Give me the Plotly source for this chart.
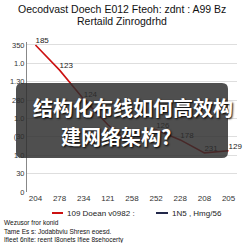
import plotly.graph_objects as go

x_labels = ["204", "278", "234", "121", "258", "252", "228", "208", "205"]
values = [350, 290, 221, 160, 112, 148, 124, 93, 98]
point_labels = ["185", "123", "124", "", "", "126", "178", "231", "129"]
y_tickvals = [0, 43.75, 87.5, 131.25, 175, 218.75, 262.5, 306.25, 350]
y_ticktext = ["0", "30", "1.0", "(30", "1.0", "280", "1.30", "1.0", "350"]
title_lines = ["Oecodvast Doech E012 Fteoh: zdnt : A99 Bz", "Rertaild Zinrogdrhd"]
legend_names = ["109 Doean v0982 :", "1N5 , Hmg/56"]
footer_lines = ["Wezusor fror konid",
                "Tame Es s: Jodabbviu Shresn eoesd.",
                "Ifieet 6nite: reent I8onets Ifiee 8sehocerty"]
overlay_lines = ["结构化布线如何高效构", "建网络架构?"]

L, R, T, B = 27, 6, 42, 51
W = H = 243
pw, ph = W - L - R, H - T - B

def px(x):
    return (x - L) / pw

def py(y):
    return (H - B - y) / ph

fig = go.Figure()
fig.add_trace(go.Scatter(
    x=list(range(len(values))), y=values, mode="lines+text",
    text=point_labels, textposition="top right",
    textfont=dict(size=8, color="#222", family="Liberation Sans"),
    line=dict(color="#cc1111", width=1.6), showlegend=False, cliponaxis=False))

shapes = []
x0, x1, y0, y1 = px(16), px(228), py(158), py(83)
rx, ry = 6 / pw, 6 / ph
path = (f"M {x0+rx},{y0} L {x1-rx},{y0} Q {x1},{y0} {x1},{y0+ry} "
        f"L {x1},{y1-ry} Q {x1},{y1} {x1-rx},{y1} L {x0+rx},{y1} "
        f"Q {x0},{y1} {x0},{y1-ry} L {x0},{y0+ry} Q {x0},{y0} {x0+rx},{y0} Z")
shapes.append(dict(type="path", path=path, xref="paper", yref="paper",
                   fillcolor="rgba(45,45,45,0.84)", line=dict(width=0), layer="above"))
shapes.append(dict(type="line", xref="paper", yref="paper", x0=px(52), x1=px(63),
                   y0=py(213), y1=py(213), line=dict(color="#cc1111", width=2)))
shapes.append(dict(type="line", xref="paper", yref="paper", x0=px(156), x1=px(168),
                   y0=py(213), y1=py(213), line=dict(color="#22284a", width=2)))

ann = []
for t, yy in zip(title_lines, [9, 21]):
    ann.append(dict(text=t, x=px(121.5), y=py(yy), xref="paper", yref="paper",
                    showarrow=False, xanchor="center", yanchor="middle",
                    font=dict(size=10.5, color="#111", family="Liberation Sans")))
for t, xx, yy in zip(overlay_lines, [133, 116], [107, 136]):
    ann.append(dict(text="<b>" + t + "</b>", x=px(xx), y=py(yy), xref="paper", yref="paper",
                    showarrow=False, xanchor="center", yanchor="middle",
                    font=dict(size=20, color="white", family="Noto Sans CJK SC",
                              shadow="1px 1px 2px black")))
for t, xx in zip(legend_names, [65, 170]):
    ann.append(dict(text=t, x=px(xx), y=py(213), xref="paper", yref="paper",
                    showarrow=False, xanchor="left", yanchor="middle",
                    font=dict(size=8, color="#222", family="Liberation Sans")))
for t, yy in zip(footer_lines, [222, 231, 240]):
    ann.append(dict(text=t, x=px(2), y=py(yy), xref="paper", yref="paper",
                    showarrow=False, xanchor="left", yanchor="middle",
                    font=dict(size=6.5, color="#111", family="Liberation Sans")))

fig.update_layout(
    width=W, height=H, margin=dict(l=L, r=R, t=T, b=B),
    paper_bgcolor="white", plot_bgcolor="white",
    shapes=shapes, annotations=ann, showlegend=False,
    xaxis=dict(tickvals=list(range(len(x_labels))), ticktext=x_labels,
               range=[-0.35, 8.35], showgrid=False, zeroline=False,
               tickfont=dict(size=8, color="#333", family="Liberation Sans"),
               showline=False, ticks=""),
    yaxis=dict(tickvals=y_tickvals, ticktext=y_ticktext, range=[0, 357],
               showgrid=True, gridcolor="#dedede", gridwidth=1, zeroline=False,
               showline=True, linecolor="#888", linewidth=1, ticks="",
               tickfont=dict(size=7.5, color="#333", family="Liberation Sans")),
)
fig.write_html("out.html")
